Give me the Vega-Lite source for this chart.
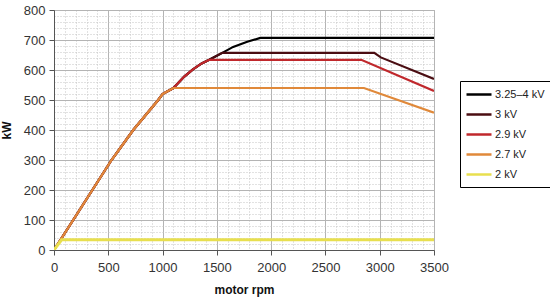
{
  "$schema": "https://vega.github.io/schema/vega-lite/v6.json",
  "width": 380,
  "height": 240,
  "autosize": {"type": "none"},
  "padding": {"left": 54, "top": 10, "right": 116, "bottom": 50},
  "background": "white",
  "config": {
    "font": "Liberation Sans",
    "view": {"stroke": "#a8a8a8", "strokeWidth": 1}
  },
  "data": {
    "values": [
      {"s": "3.25–4 kV", "rpm": 0, "kw": 0},
      {"s": "3.25–4 kV", "rpm": 530, "kw": 300},
      {"s": "3.25–4 kV", "rpm": 730, "kw": 400},
      {"s": "3.25–4 kV", "rpm": 960, "kw": 500},
      {"s": "3.25–4 kV", "rpm": 1000, "kw": 520},
      {"s": "3.25–4 kV", "rpm": 1100, "kw": 540},
      {"s": "3.25–4 kV", "rpm": 1200, "kw": 578},
      {"s": "3.25–4 kV", "rpm": 1280, "kw": 602},
      {"s": "3.25–4 kV", "rpm": 1360, "kw": 622},
      {"s": "3.25–4 kV", "rpm": 1430, "kw": 634},
      {"s": "3.25–4 kV", "rpm": 1550, "kw": 657},
      {"s": "3.25–4 kV", "rpm": 1650, "kw": 677},
      {"s": "3.25–4 kV", "rpm": 1780, "kw": 694},
      {"s": "3.25–4 kV", "rpm": 1900, "kw": 707},
      {"s": "3.25–4 kV", "rpm": 3500, "kw": 707},
      {"s": "3 kV", "rpm": 0, "kw": 0},
      {"s": "3 kV", "rpm": 530, "kw": 300},
      {"s": "3 kV", "rpm": 730, "kw": 400},
      {"s": "3 kV", "rpm": 960, "kw": 500},
      {"s": "3 kV", "rpm": 1000, "kw": 520},
      {"s": "3 kV", "rpm": 1100, "kw": 540},
      {"s": "3 kV", "rpm": 1200, "kw": 578},
      {"s": "3 kV", "rpm": 1280, "kw": 602},
      {"s": "3 kV", "rpm": 1360, "kw": 622},
      {"s": "3 kV", "rpm": 1430, "kw": 634},
      {"s": "3 kV", "rpm": 1550, "kw": 657},
      {"s": "3 kV", "rpm": 2950, "kw": 657},
      {"s": "3 kV", "rpm": 3010, "kw": 642},
      {"s": "3 kV", "rpm": 3500, "kw": 570},
      {"s": "2.9 kV", "rpm": 0, "kw": 0},
      {"s": "2.9 kV", "rpm": 530, "kw": 300},
      {"s": "2.9 kV", "rpm": 730, "kw": 400},
      {"s": "2.9 kV", "rpm": 960, "kw": 500},
      {"s": "2.9 kV", "rpm": 1000, "kw": 520},
      {"s": "2.9 kV", "rpm": 1100, "kw": 540},
      {"s": "2.9 kV", "rpm": 1200, "kw": 578},
      {"s": "2.9 kV", "rpm": 1280, "kw": 602},
      {"s": "2.9 kV", "rpm": 1360, "kw": 622},
      {"s": "2.9 kV", "rpm": 1430, "kw": 634},
      {"s": "2.9 kV", "rpm": 2830, "kw": 634},
      {"s": "2.9 kV", "rpm": 3500, "kw": 530},
      {"s": "2.7 kV", "rpm": 0, "kw": 0},
      {"s": "2.7 kV", "rpm": 530, "kw": 300},
      {"s": "2.7 kV", "rpm": 730, "kw": 400},
      {"s": "2.7 kV", "rpm": 960, "kw": 500},
      {"s": "2.7 kV", "rpm": 1000, "kw": 520},
      {"s": "2.7 kV", "rpm": 1100, "kw": 540},
      {"s": "2.7 kV", "rpm": 2855, "kw": 540},
      {"s": "2.7 kV", "rpm": 3500, "kw": 458},
      {"s": "2 kV", "rpm": 0, "kw": 0},
      {"s": "2 kV", "rpm": 70, "kw": 34},
      {"s": "2 kV", "rpm": 3500, "kw": 34}
    ]
  },
  "encoding": {
    "x": {
      "field": "rpm",
      "type": "quantitative",
      "scale": {"domain": [0, 3500], "nice": false, "zero": true},
      "axis": {
        "title": "motor rpm",
        "titleFontWeight": "bold",
        "titleFontSize": 12,
        "titleColor": "#111",
        "titlePadding": 10,
        "values": [0,100,200,300,400,500,600,700,800,900,1000,1100,1200,1300,1400,1500,1600,1700,1800,1900,2000,2100,2200,2300,2400,2500,2600,2700,2800,2900,3000,3100,3200,3300,3400,3500],
        "format": "d",
        "labelExpr": "datum.value % 500 === 0 ? datum.label : ''",
        "labelOverlap": false,
        "labelFlush": false,
        "labelFontSize": 13,
        "labelColor": "#333",
        "labelPadding": 6,
        "domainColor": "#555",
        "tickColor": "#555",
        "tickSize": 5,
        "tickOpacity": {"condition": {"test": "datum.value % 500 === 0", "value": 1}, "value": 0},
        "grid": true,
        "gridDash": {"condition": {"test": "datum.value % 500 === 0", "value": []}, "value": [1, 2]},
        "gridColor": {"condition": {"test": "datum.value % 500 === 0", "value": "#b4b4b4"}, "value": "#c4c4c4"},
        "gridOpacity": 1
      }
    },
    "y": {
      "field": "kw",
      "type": "quantitative",
      "scale": {"domain": [0, 800], "nice": false},
      "axis": {
        "title": "kW",
        "titleFontWeight": "bold",
        "titleFontSize": 12,
        "titleColor": "#111",
        "titlePadding": 10,
        "values": [0,20,40,60,80,100,120,140,160,180,200,220,240,260,280,300,320,340,360,380,400,420,440,460,480,500,520,540,560,580,600,620,640,660,680,700,720,740,760,780,800],
        "format": "d",
        "labelExpr": "datum.value % 100 === 0 ? datum.label : ''",
        "labelOverlap": false,
        "labelFlush": false,
        "labelFontSize": 13,
        "labelColor": "#333",
        "labelPadding": 4,
        "domainColor": "#555",
        "tickColor": "#555",
        "tickSize": 5,
        "tickOpacity": {"condition": {"test": "datum.value % 100 === 0", "value": 1}, "value": 0},
        "grid": true,
        "gridDash": {"condition": {"test": "datum.value % 100 === 0", "value": []}, "value": [1, 2]},
        "gridColor": {"condition": {"test": "datum.value % 100 === 0", "value": "#b4b4b4"}, "value": "#c4c4c4"},
        "gridOpacity": 1
      }
    },
    "color": {
      "field": "s",
      "type": "nominal",
      "scale": {
        "domain": ["3.25–4 kV", "3 kV", "2.9 kV", "2.7 kV", "2 kV"],
        "range": ["#000000", "#4a0d12", "#c0282c", "#e0893a", "#e8df4f"]
      },
      "legend": {
        "title": null,
        "orient": "none",
        "legendX": 406,
        "legendY": 71,
        "symbolType": "M-1.4,0H3.6",
        "symbolSize": 100,
        "symbolStrokeWidth": 2.5,
        "labelFontSize": 11,
        "labelColor": "#222",
        "labelOffset": 15,
        "strokeColor": "#000",
        "fillColor": "white",
        "padding": 7,
        "rowPadding": 8
      }
    }
  },
  "layer": [
    {"transform": [{"filter": "datum.s === '3.25–4 kV'"}], "mark": {"type": "line", "strokeWidth": 2.2, "clip": true}},
    {"transform": [{"filter": "datum.s === '3 kV'"}], "mark": {"type": "line", "strokeWidth": 2.2, "clip": true}},
    {"transform": [{"filter": "datum.s === '2.9 kV'"}], "mark": {"type": "line", "strokeWidth": 2.2, "clip": true}},
    {"transform": [{"filter": "datum.s === '2.7 kV'"}], "mark": {"type": "line", "strokeWidth": 2.2, "clip": true}},
    {"transform": [{"filter": "datum.s === '2 kV'"}], "mark": {"type": "line", "strokeWidth": 3, "clip": true}}
  ]
}
